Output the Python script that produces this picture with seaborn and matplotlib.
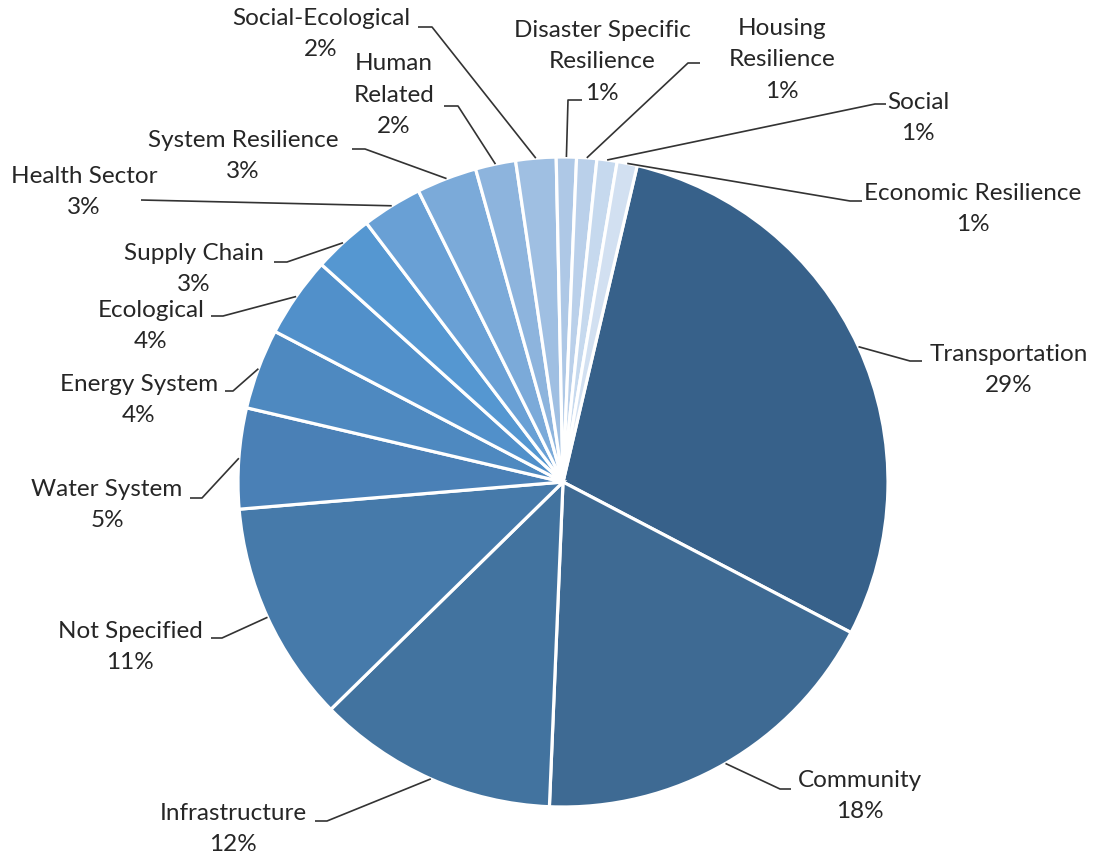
import numpy as np
import matplotlib
matplotlib.use("Agg")
import matplotlib.pyplot as plt
import seaborn as sns

# ---- data -------------------------------------------------------------
categories = [
    "Transportation", "Community", "Infrastructure", "Not Specified",
    "Water System", "Energy System", "Ecological", "Supply Chain",
    "Health Sector", "System Resilience", "Human\nRelated",
    "Social-Ecological", "Disaster Specific\nResilience",
    "Housing\nResilience", "Social", "Economic Resilience",
]
shares = [29, 18, 12, 11, 5, 4, 4, 3, 3, 3, 2, 2, 1, 1, 1, 1]

slice_colors = [
    "#37618A", "#3E6A93", "#42739F", "#467AAA", "#4A80B6", "#4E89C0",
    "#5190CA", "#5597D1", "#69A0D5", "#7BAAD9", "#8DB4DD", "#9FBFE2",
    "#AEC8E6", "#BAD0EA", "#C6D9EE", "#D2E0F1",
]

# ---- layout (figure pixels, origin top-left) ----------------------------
W, H = 1096, 858
PIE_CENTER = (563, 482)
PIE_RADIUS = 325

# label block centre, elbow of the leader line, end of the leader line
label_layout = [
    ((1009, 370), (910, 361), (922, 361)),
    ((860, 796), (780, 789), (791, 789)),
    ((233, 829), (327, 821), (315, 821)),
    ((130, 647), (222, 638), (211, 638)),
    ((107, 505), (202, 498), (190, 498)),
    ((139, 400), (233, 391), (225, 391)),
    ((151, 326), (223, 316), (211, 316)),
    ((194, 269), (287, 262), (274, 262)),
    ((84, 192), (141, 200), (141, 200)),
    ((243, 156), (365, 149), (352, 149)),
    ((394, 95), (458, 106), (444, 106)),
    ((321, 34), (432, 27), (418, 27)),
    ((602, 62), (568, 100), (582, 100)),
    ((782, 60), (688, 63), (700, 63)),
    ((918, 118), (875, 104), (886, 104)),
    ((973, 209), (850, 201), (862, 201)),
]


def to_data(x, y):
    return x, H - y


sns.set_theme(style="white")
plt.rcParams["font.family"] = ["Lato", "DejaVu Sans"]

fig = plt.figure(figsize=(W / 100, H / 100), dpi=100)
ax = fig.add_axes([0, 0, 1, 1])

palette = sns.color_palette(slice_colors)
wedges, _ = ax.pie(
    shares,
    colors=palette,
    startangle=76.8,
    counterclock=False,
    center=to_data(*PIE_CENTER),
    radius=PIE_RADIUS,
    wedgeprops=dict(edgecolor="white", linewidth=2.3),
)

ax.set_xlim(0, W)
ax.set_ylim(0, H)
ax.set_aspect("equal")
ax.axis("off")

total = sum(shares)
text_color = "#262626"
line_color = "#333333"

for wedge, name, value, (lbl, elbow, end) in zip(
    wedges, categories, shares, label_layout
):
    mid = np.deg2rad((wedge.theta1 + wedge.theta2) / 2)
    cx, cy = wedge.center
    sx = cx + wedge.r * np.cos(mid)
    sy = cy + wedge.r * np.sin(mid)
    ex, ey = to_data(*elbow)
    tx, ty = to_data(*end)
    ax.plot([sx, ex, tx], [sy, ey, ty], color=line_color, lw=1.2,
            solid_capstyle="butt", zorder=1)
    lx, ly = to_data(*lbl)
    ax.text(lx, ly, f"{name}\n{value / total * 100:.0f}%",
            ha="center", va="center", multialignment="center",
            fontsize=17.5, color=text_color, linespacing=1.6)

fig.savefig("out.png", dpi=100)
